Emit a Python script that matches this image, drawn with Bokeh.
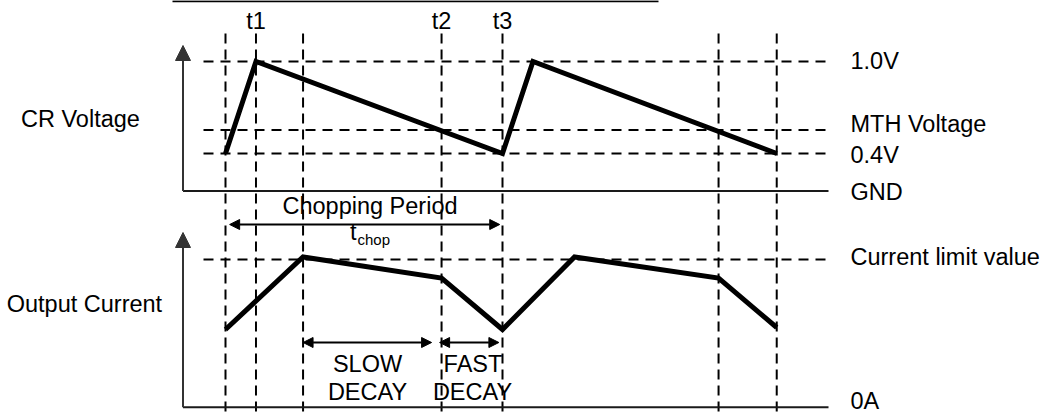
from bokeh.plotting import figure
from bokeh.models import Range1d, Arrow, NormalHead, Label
from bokeh.embed import file_html
from bokeh.resources import INLINE

# ---------------- data (schematic timing diagram) ----------------
# time markers in arbitrary time units (chopping period = 10)
t_marks = [0.0, 1.1, 2.8, 7.8, 10.0, 17.8, 19.9]
t_names = ["t1", "t2", "t3"]
t_named = [1.1, 7.8, 10.0]

# schematic vertical levels (diagram units)
V_GND, V_04, V_MTH, V_10 = 223.5, 261.0, 284.5, 353.0
I_ZERO, I_LIM = 7.3, 155.0

# CR voltage waveform
cr_t = [0.0, 1.1, 10.0, 11.1, 19.9]
cr_v = [V_04, V_10, V_04, V_10, V_04]

# output current waveform
cur_t = [0.0, 2.8, 7.8, 10.0, 12.6, 17.8, 19.9]
cur_i = [85.0, 157.5, 136.5, 85.0, 157.5, 136.5, 87.0]

# annotated intervals
chop_span = [0.15, 9.9]
slow_span = [2.8, 7.44]
fast_span = [7.73, 9.87]

# ---------------- layout helpers ----------------
W, H = 1046, 414
PX_T0, PX_PER_T = 225.0, 27.7


def X(px):
    return (px - PX_T0) / PX_PER_T


def Y(py):
    return 414.0 - py


FONT = "Liberation Sans"
FS = "23.5px"

p = figure(width=W, height=H,
           x_range=Range1d(X(0), X(W)), y_range=Range1d(Y(H), Y(0)),
           x_axis_type=None, y_axis_type=None, toolbar_location=None,
           output_backend="svg", min_border=0, outline_line_color=None,
           background_fill_color="white", border_fill_color="white")

# top border rule
p.segment(x0=[X(172)], y0=[Y(0.8)], x1=[X(658)], y1=[Y(0.8)], line_width=2, color="black")

# vertical dashed time markers
p.segment(x0=t_marks, y0=[Y(33)] * len(t_marks), x1=t_marks, y1=[Y(430)] * len(t_marks),
          line_dash="10 6", line_width=2, color="black")

# horizontal dashed levels
h_levels = [V_10, V_MTH, V_04, I_LIM]
p.segment(x0=[X(203)] * 4, y0=h_levels, x1=[X(828)] * 4, y1=h_levels,
          line_dash="10 7", line_width=2, color="black")

# base lines (GND, 0A)
AX = X(182.5)
p.segment(x0=[AX, AX], y0=[V_GND, I_ZERO], x1=[X(828), X(828)], y1=[V_GND, I_ZERO],
          line_width=2, color="#1a1a1a")

# vertical axes with arrow heads
for y0, ytip in [(V_GND, Y(45)), (I_ZERO, Y(232))]:
    p.add_layout(Arrow(end=NormalHead(size=15, fill_color="#333333", line_color="#333333"),
                       x_start=AX, y_start=y0, x_end=AX, y_end=ytip,
                       line_width=2, line_color="#333333"))

# waveforms
p.line(cr_t, cr_v, line_width=5, color="black", line_join="miter")
p.line(cur_t, cur_i, line_width=5, color="black", line_join="miter")

# double arrows
for span, yy in [(chop_span, Y(224)), (slow_span, Y(342)), (fast_span, Y(342))]:
    p.add_layout(Arrow(start=NormalHead(size=10, fill_color="black", line_color="black"),
                       end=NormalHead(size=10, fill_color="black", line_color="black"),
                       x_start=span[0], y_start=yy, x_end=span[1], y_end=yy,
                       line_width=2, line_color="black"))


def lab(text, x, y, align="left", size=FS):
    p.add_layout(Label(x=x, y=y, text=text, text_font=FONT, text_font_size=size,
                       text_align=align, text_baseline="middle", text_color="black"))


# time labels
for name, tv in zip(t_names, t_named):
    lab(name, tv, Y(20.2), "center")

# left labels
lab("CR Voltage", X(20.5), Y(118.4))
lab("Output Current", X(6.2), Y(303.4))

# right labels
RX = X(850.0)
lab("1.0V", RX, Y(60.5))
lab("MTH Voltage", RX, Y(123.3))
lab("0.4V", RX, Y(154))
lab("GND", RX, Y(191.5))
lab("Current limit value", RX, Y(256.6))
lab("0A", RX, Y(400.5))

# chopping period
lab("Chopping Period", X(369.5), Y(205.1), "center")
lab("t", X(349.5), Y(231.6))
lab("chop", X(357.0), Y(238.7), size="15px")

# decay labels
lab("SLOW", X(367), Y(363.6), "center")
lab("DECAY", X(367), Y(391.6), "center")
lab("FAST", X(472.5), Y(363.6), "center")
lab("DECAY", X(472), Y(391.6), "center")

open("out.html", "w").write(file_html(p, INLINE))
